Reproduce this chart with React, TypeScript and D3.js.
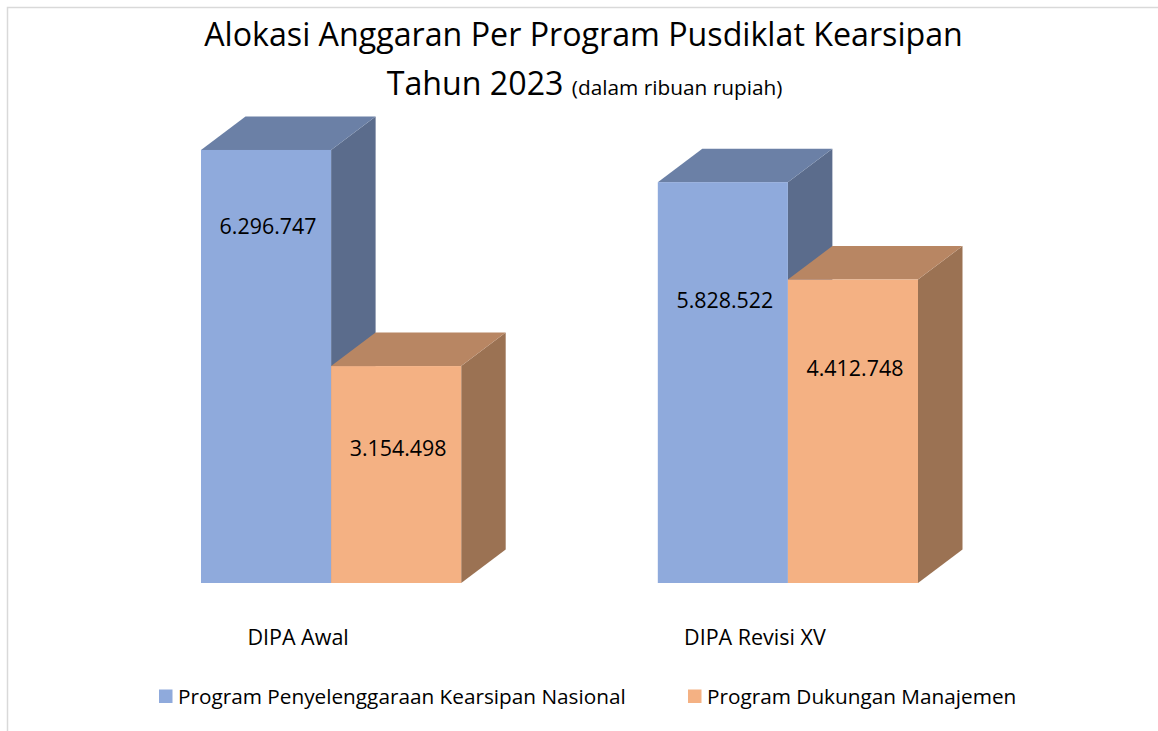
import React from "react";
import * as d3 from "d3";

const categories = ["DIPA Awal", "DIPA Revisi XV"];
const seriesNames = [
  "Program Penyelenggaraan Kearsipan Nasional",
  "Program Dukungan Manajemen",
];
const penyelenggaraan = [6296747, 5828522];
const dukungan = [3154498, 4412748];
const titleLine1 = "Alokasi Anggaran Per Program Pusdiklat Kearsipan";
const titleLine2 = "Tahun 2023";
const titleNote = "(dalam ribuan rupiah)";

const W = 1158;
const H = 731;
const FONT = "'Open Sans', sans-serif";
const baseY = 583;
const depthX = 44.5;
const depthY = -33.5;
const colors = [
  { front: "#8faadc", top: "#6b80a6", side: "#5b6c8c" },
  { front: "#f4b183", top: "#b88663", side: "#9b7253" },
];
// label vertical offset from bar top (px), per group per series
const labelDy = [
  [76, 81],
  [117, 88],
];

export default function App() {
  const y = d3.scaleLinear().domain([0, 7000000]).range([baseY, baseY - 481.4]);
  const x0 = d3
    .scaleBand<string>()
    .domain(categories)
    .range([201, 918])
    .paddingInner(0.4304)
    .paddingOuter(0);
  const x1 = d3
    .scaleBand<number>()
    .domain([0, 1])
    .range([0, x0.bandwidth()])
    .padding(0);
  const fmt = (v: number) => d3.format(",")(v).replace(/,/g, ".");
  const values = [penyelenggaraan, dukungan];

  const bars: React.ReactNode[] = [];
  const labels: React.ReactNode[] = [];
  categories.forEach((c, ci) => {
    [0, 1].forEach((si) => {
      const v = values[si][ci];
      const xl = (x0(c) as number) + (x1(si) as number);
      const xr = xl + x1.bandwidth();
      const yt = y(v);
      const yb = y(0);
      const col = colors[si];
      const side = `M${xr},${yt} L${xr + depthX},${yt + depthY} L${xr + depthX},${yb + depthY} L${xr},${yb} Z`;
      const top = `M${xl},${yt} L${xl + depthX},${yt + depthY} L${xr + depthX},${yt + depthY} L${xr},${yt} Z`;
      bars.push(
        <g key={`b${ci}${si}`}>
          <path d={side} fill={col.side} />
          <path d={top} fill={col.top} />
          <rect x={xl} y={yt} width={xr - xl} height={yb - yt} fill={col.front} />
        </g>
      );
      labels.push(
        <text
          key={`l${ci}${si}`}
          x={(xl + xr) / 2 + 2}
          y={yt + labelDy[ci][si]}
          textAnchor="middle"
          dominantBaseline="central"
          fontFamily={FONT}
          fontSize={21.4}
          fill="#000"
        >
          {fmt(v)}
        </text>
      );
    });
  });

  const legendItems = [
    { x: 159, name: seriesNames[0], color: colors[0].front },
    { x: 688, name: seriesNames[1], color: colors[1].front },
  ];

  return (
    <svg
      width={W}
      height={H}
      style={{ position: "absolute", left: 0, top: 0, background: "#fff" }}
    >
      <rect x={7.5} y={7.5} width={1170} height={740} fill="#fff" stroke="#d9d9d9" strokeWidth={1.5} />
      <text x={583.5} y={46} textAnchor="middle" fontFamily={FONT} fontSize={32.2} fill="#000">
        {titleLine1}
      </text>
      <text x={584.5} y={95} textAnchor="middle" fontFamily={FONT} fill="#000">
        <tspan fontSize={32.2}>{titleLine2} </tspan>
        <tspan fontSize={20.8}>{titleNote}</tspan>
      </text>
      {bars}
      {labels}
      {categories.map((c) => (
        <text
          key={c}
          x={(x0(c) as number) + x0.bandwidth() / 2 - 33}
          y={645}
          textAnchor="middle"
          fontFamily={FONT}
          fontSize={21.5}
          fill="#000"
        >
          {c}
        </text>
      ))}
      {legendItems.map((it) => (
        <g key={it.name}>
          <rect x={it.x} y={689.5} width={13.5} height={13.5} fill={it.color} />
          <text x={it.x + 19} y={704} fontFamily={FONT} fontSize={20.75} fill="#000">
            {it.name}
          </text>
        </g>
      ))}
    </svg>
  );
}
